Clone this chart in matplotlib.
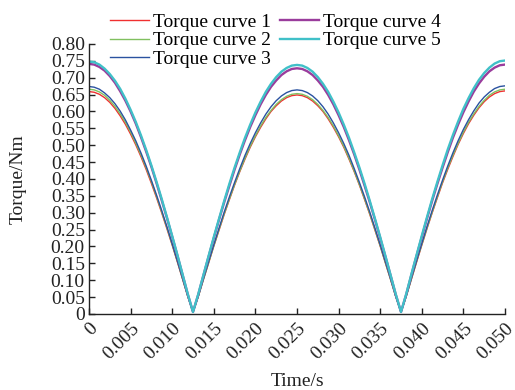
import matplotlib
matplotlib.use("Agg")
import matplotlib.pyplot as plt

plt.rcParams['font.family'] = ['Liberation Serif', 'DejaVu Serif']

time_s = [i * 0.000625 for i in range(81)]

torque1 = [0.659, 0.657, 0.651, 0.641, 0.627, 0.609, 0.587, 0.562, 0.533, 0.501, 0.466, 0.428, 0.387, 0.344, 0.299, 0.252, 0.204, 0.154, 0.103, 0.052, 0.006,
           0.051, 0.102, 0.151, 0.201, 0.248, 0.295, 0.339, 0.382, 0.422, 0.459, 0.494, 0.525, 0.553, 0.578, 0.600, 0.617, 0.631, 0.641, 0.647, 0.649,
           0.647, 0.641, 0.631, 0.617, 0.600, 0.578, 0.553, 0.525, 0.494, 0.459, 0.422, 0.382, 0.339, 0.295, 0.248, 0.201, 0.151, 0.102, 0.051, 0.006,
           0.052, 0.103, 0.154, 0.204, 0.253, 0.300, 0.345, 0.389, 0.429, 0.467, 0.503, 0.535, 0.564, 0.589, 0.611, 0.629, 0.643, 0.653, 0.659, 0.661]
torque2 = [0.666, 0.664, 0.658, 0.648, 0.633, 0.615, 0.593, 0.568, 0.539, 0.506, 0.471, 0.433, 0.392, 0.348, 0.302, 0.255, 0.206, 0.156, 0.104, 0.052, 0.006,
           0.051, 0.102, 0.152, 0.202, 0.250, 0.297, 0.341, 0.384, 0.424, 0.462, 0.497, 0.528, 0.557, 0.582, 0.603, 0.621, 0.635, 0.645, 0.651, 0.653,
           0.651, 0.645, 0.635, 0.621, 0.603, 0.582, 0.557, 0.528, 0.497, 0.462, 0.424, 0.384, 0.341, 0.297, 0.250, 0.202, 0.152, 0.102, 0.051, 0.006,
           0.052, 0.104, 0.156, 0.206, 0.255, 0.302, 0.348, 0.392, 0.433, 0.471, 0.506, 0.539, 0.568, 0.593, 0.615, 0.633, 0.648, 0.658, 0.664, 0.666]
torque3 = [0.674, 0.672, 0.666, 0.655, 0.641, 0.623, 0.601, 0.575, 0.545, 0.513, 0.477, 0.438, 0.396, 0.352, 0.306, 0.258, 0.208, 0.157, 0.105, 0.053, 0.006,
           0.052, 0.104, 0.155, 0.205, 0.254, 0.302, 0.347, 0.390, 0.431, 0.470, 0.505, 0.537, 0.566, 0.592, 0.614, 0.632, 0.646, 0.656, 0.662, 0.664,
           0.662, 0.656, 0.646, 0.632, 0.614, 0.592, 0.566, 0.537, 0.505, 0.470, 0.431, 0.390, 0.347, 0.302, 0.254, 0.205, 0.155, 0.104, 0.052, 0.006,
           0.053, 0.106, 0.158, 0.209, 0.259, 0.307, 0.353, 0.397, 0.439, 0.478, 0.514, 0.547, 0.576, 0.602, 0.625, 0.643, 0.657, 0.668, 0.674, 0.676]
torque4 = [0.741, 0.739, 0.732, 0.721, 0.705, 0.685, 0.660, 0.632, 0.600, 0.564, 0.524, 0.481, 0.436, 0.387, 0.336, 0.284, 0.229, 0.173, 0.116, 0.058, 0.006,
           0.057, 0.114, 0.170, 0.225, 0.279, 0.331, 0.380, 0.428, 0.473, 0.515, 0.554, 0.589, 0.621, 0.649, 0.673, 0.692, 0.708, 0.719, 0.726, 0.728,
           0.726, 0.719, 0.708, 0.692, 0.673, 0.649, 0.621, 0.589, 0.554, 0.515, 0.473, 0.428, 0.380, 0.331, 0.279, 0.225, 0.170, 0.114, 0.057, 0.006,
           0.058, 0.116, 0.173, 0.228, 0.283, 0.336, 0.386, 0.434, 0.480, 0.523, 0.562, 0.598, 0.630, 0.659, 0.683, 0.703, 0.719, 0.730, 0.737, 0.739]
torque5 = [0.748, 0.746, 0.739, 0.727, 0.711, 0.691, 0.667, 0.638, 0.605, 0.569, 0.529, 0.486, 0.440, 0.391, 0.340, 0.286, 0.231, 0.175, 0.117, 0.059, 0.006,
           0.058, 0.115, 0.172, 0.228, 0.282, 0.335, 0.386, 0.434, 0.479, 0.522, 0.561, 0.597, 0.629, 0.658, 0.682, 0.702, 0.718, 0.729, 0.736, 0.738,
           0.736, 0.729, 0.718, 0.702, 0.682, 0.658, 0.629, 0.597, 0.561, 0.522, 0.479, 0.434, 0.386, 0.335, 0.282, 0.228, 0.172, 0.115, 0.058, 0.006,
           0.059, 0.118, 0.175, 0.232, 0.287, 0.341, 0.392, 0.441, 0.488, 0.531, 0.571, 0.608, 0.640, 0.669, 0.694, 0.714, 0.730, 0.742, 0.749, 0.751]

labels = ["Torque curve 1", "Torque curve 2", "Torque curve 3", "Torque curve 4", "Torque curve 5"]
colors = ["#f03030", "#80c060", "#2a52a0", "#9a3c9c", "#40c0c8"]
widths = [1.0, 1.0, 1.0, 1.7, 1.7]
series = [torque1, torque2, torque3, torque4, torque5]

xticks = [0, 0.005, 0.010, 0.015, 0.020, 0.025, 0.030, 0.035, 0.040, 0.045, 0.050]
xticklabels = ["0", "0.005", "0.010", "0.015", "0.020", "0.025", "0.030", "0.035", "0.040", "0.045", "0.050"]
yticks = [i * 0.05 for i in range(17)]
yticklabels = ["0"] + ["%.2f" % (i * 0.05) for i in range(1, 17)]

fig = plt.figure(figsize=(5.15, 3.9), dpi=100)
ax = fig.add_axes([0.1728, 0.1949, 0.8078, 0.6923])

handles = []
for y, lab, c, w in zip(series, labels, colors, widths):
    h, = ax.plot(time_s, y, color=c, lw=w, label=lab)
    handles.append(h)

ax.set_xlim(0, 0.05)
ax.set_ylim(0, 0.8)
ax.set_xticks(xticks)
ax.set_xticklabels(xticklabels, rotation=45, ha='right', va='top', rotation_mode='anchor')
ax.set_yticks(yticks)
ax.set_yticklabels(yticklabels)
ax.tick_params(direction='in', length=4, width=1, labelsize=14, colors='#222222', pad=3)
ax.tick_params(axis='x', pad=4)
for s in ['top', 'right']:
    ax.spines[s].set_visible(False)
for s in ['left', 'bottom']:
    ax.spines[s].set_linewidth(1.0)
    ax.spines[s].set_color('#222222')

ax.set_xlabel("Time/s", fontsize=14, color='#222222')
ax.set_ylabel("Torque/Nm", fontsize=14, color='#222222')
ax.xaxis.set_label_coords(0.5, -0.22)
ax.yaxis.set_label_coords(-0.15, 0.5)

fig.legend(handles, labels,
           loc='upper center', bbox_to_anchor=(0.535, 1.0), ncol=2, frameon=False,
           fontsize=14, handlelength=2.0, handletextpad=0.2, columnspacing=0.5,
           labelspacing=0.03, borderpad=0.2)

fig.savefig("out.png", dpi=100)
